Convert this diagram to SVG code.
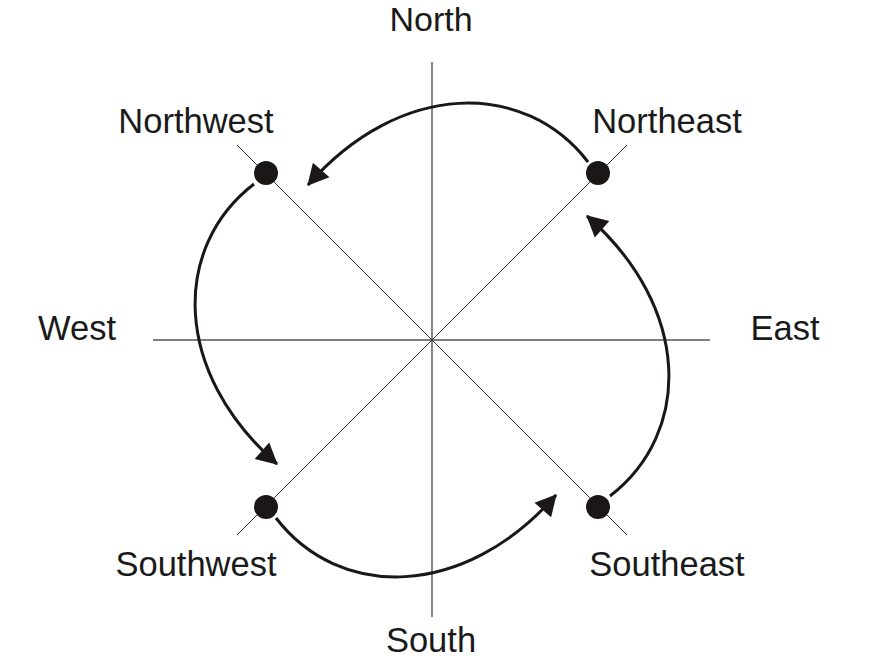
<svg xmlns="http://www.w3.org/2000/svg" width="880" height="664" viewBox="0 0 880 664">
<style>
.lbl{font-family:"Liberation Sans",Arial,sans-serif;font-size:34.5px;fill:#1a1a1a;text-anchor:middle}
.axis{stroke:#555;stroke-width:1.4;fill:none}
.diag{stroke:#333;stroke-width:1;fill:none}
.arc{stroke:#1a1716;stroke-width:3;fill:none;marker-end:url(#ah)}
.dot{fill:#1a1716}
</style>
<defs>
<marker id="ah" markerUnits="userSpaceOnUse" markerWidth="24" markerHeight="24" viewBox="0 -12 22 24" refX="20" refY="0" orient="auto">
<path d="M0,-11 L21,0 L0,11 z" fill="#1a1716"/>
</marker>
</defs>
<rect width="880" height="664" fill="#fff"/>
<g id="axes">
<line class="axis" x1="432" y1="62" x2="432" y2="617"/>
<line class="axis" x1="153" y1="340" x2="710" y2="340"/>
<line class="diag" x1="237" y1="145" x2="627" y2="535"/>
<line class="diag" x1="627" y1="145" x2="237" y2="535"/>
</g>
<g id="connectors">
<path class="arc" d="M588,162 C525,80 400,80 308,185"/>
<path class="arc" d="M254,184 C172,247 172,372 277,464"/>
<path class="arc" d="M276,518 C339,600 464,600 556,495"/>
<path class="arc" d="M610,496 C692,433 692,308 587,216"/>
</g>
<g id="northwest"><circle class="dot" cx="266" cy="173" r="12"/><text class="lbl" x="196" y="133">Northwest</text></g>
<g id="northeast"><circle class="dot" cx="598" cy="173" r="12"/><text class="lbl" x="667" y="133">Northeast</text></g>
<g id="southwest"><circle class="dot" cx="266" cy="507" r="12"/><text class="lbl" x="196" y="576">Southwest</text></g>
<g id="southeast"><circle class="dot" cx="598" cy="507" r="12"/><text class="lbl" x="667" y="576">Southeast</text></g>
<g id="north"><text class="lbl" x="431" y="31" style="font-size:34px">North</text></g>
<g id="south"><text class="lbl" x="431" y="652">South</text></g>
<g id="west"><text class="lbl" x="77" y="340">West</text></g>
<g id="east"><text class="lbl" x="785" y="340">East</text></g>
</svg>
